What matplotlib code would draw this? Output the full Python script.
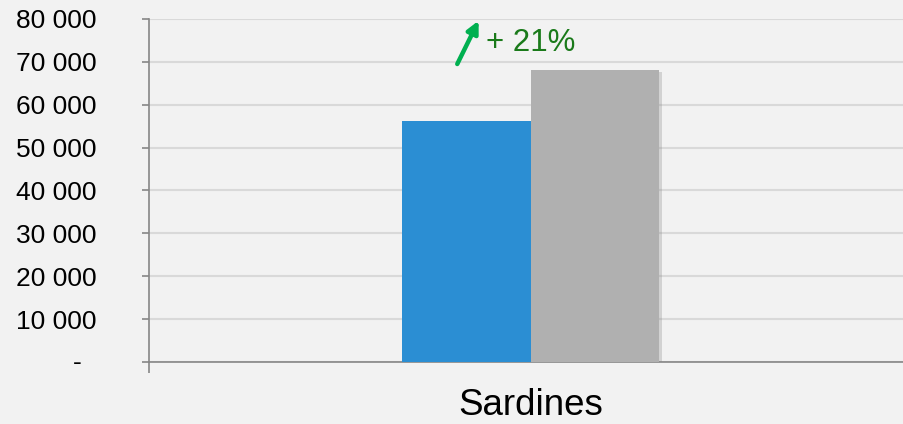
import matplotlib.pyplot as plt
import matplotlib.patheffects as pe
from matplotlib.transforms import ScaledTranslation

# data
category = "Sardines"
values = [56300, 68100]
bar_colors = ["#2b8ed3", "#b0b0b0"]
change_label = "+ 21%"
yticks = [0, 10000, 20000, 30000, 40000, 50000, 60000, 70000, 80000]
ytick_labels = ["-", "10 000", "20 000", "30 000", "40 000",
                "50 000", "60 000", "70 000", "80 000"]

plt.rcParams['font.family'] = ['Liberation Sans', 'DejaVu Sans']

fig = plt.figure(figsize=(9.04, 4.24), dpi=100)
fig.patch.set_facecolor('#f2f2f2')
ax = fig.add_axes([149/904, 62/424, 763/904, 343/424])
ax.set_facecolor('#f2f2f2')

w = 0.169
offsets = [-w/2, w/2]
shadow = [pe.SimplePatchShadow(offset=(1.5, -1.5), shadow_rgbFace='#888888', alpha=0.3), pe.Normal()]
for off, v, c in zip(offsets, values, bar_colors):
    ax.bar(off, v, width=w, color=c, zorder=3, path_effects=shadow)

ax.set_xlim(-0.5, 0.5)
ax.set_ylim(0, 80000)

# gridlines
ax.set_yticks(yticks)
ax.set_yticklabels(ytick_labels, fontsize=19)
ax.grid(axis='y', color='#d9d9d9', lw=1.5, zorder=0)
ax.tick_params(axis='y', length=5, width=1.2, color='#868686', pad=33)
for lab in ax.get_yticklabels():
    if lab.get_text() == "-":
        lab.set_transform(lab.get_transform() + ScaledTranslation(-15/100, 2/100, fig.dpi_scale_trans))

ax.set_xticks([0])
ax.set_xticklabels([category], fontsize=26.5)
ax.tick_params(axis='x', length=0, pad=19)
ax.set_xticks([-0.5, 0.5], minor=True)
ax.tick_params(axis='x', which='minor', length=8, width=1.2, color='#868686')

for s in ['top', 'right']:
    ax.spines[s].set_visible(False)
for s in ['left', 'bottom']:
    ax.spines[s].set_color('#868686')
    ax.spines[s].set_linewidth(1.2)

# growth annotation
ax.annotate('', xy=(-0.068, 79600), xytext=(-0.096, 69500),
            arrowprops=dict(arrowstyle='-|>,head_length=0.7,head_width=0.35',
                            color='#00b050', lw=3.2, shrinkA=0, shrinkB=0), zorder=5)
ax.text(0.0, 74300, change_label, color='#1a7a1a', fontsize=22.5,
        ha='center', va='center', zorder=5)

fig.savefig('out.png', dpi=100, facecolor=fig.get_facecolor())
